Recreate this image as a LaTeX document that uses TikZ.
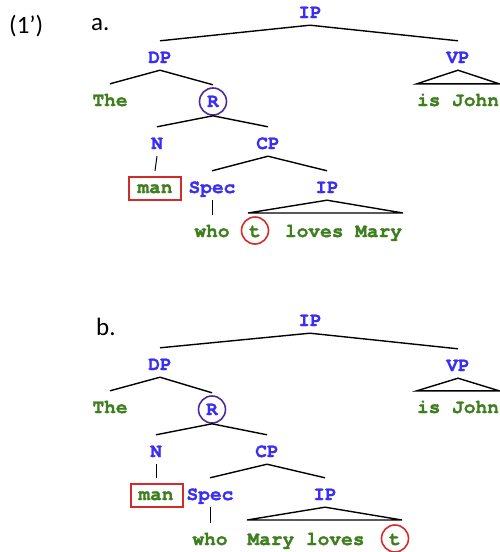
\documentclass[tikz,border=0pt]{standalone}
\usepackage{fontspec}
\setmainfont{Carlito}
\newfontfamily\treefont{TeX Gyre Cursor}[BoldFeatures={FakeBold=1.3}]
\definecolor{catblue}{HTML}{3A2EF2}
\definecolor{wordgreen}{HTML}{3E7E1E}
\definecolor{ringpurple}{HTML}{4A2A9C}
\definecolor{markred}{HTML}{D42A2A}
\begin{document}
\begin{tikzpicture}[x=1pt,y=-1pt,
  cat/.style={font=\treefont\bfseries\fontsize{19.5}{20}\selectfont,
    text=catblue, anchor=base, inner xsep=0pt, inner ysep=3pt,
    text height=19pt, text depth=4pt},
  word/.style={cat, text=wordgreen},
  branch/.style={draw=black, line width=1.4pt},
  ring/.style={circle, draw=#1, line width=1.6pt, minimum size=27pt, inner sep=0pt},
  redbox/.style={rectangle, draw=markred, line width=1.6pt, anchor=base,
    inner xsep=0pt, inner ysep=4pt, text height=12pt, text depth=3pt,
    minimum width=52pt},
  exlabel/.style={font=\fontsize{25}{28}\selectfont, anchor=base west, inner sep=0pt}]
\useasboundingbox (0,0) rectangle (500,552);

\node[exlabel] (num) at (9,33) {(1’)};
\node[exlabel] (la) at (91,30) {a.};
\node[exlabel] (lb) at (96,335) {b.};

% ---------- (a) ----------
\node[cat] (aIP) at (310,18) {IP};
\node[cat] (aDP) at (160,63) {DP};
\node[cat] (aVP) at (458,63) {VP};
\node[word] (aThe) at (110,106) {The};
\node[word] (aJohn) at (458,106) {is John};
\node[cat] (aR) at (213,107) {R};
\node[ring=ringpurple] (aRring) at ([yshift=5.5pt]aR.base) {};
\node[cat] (aN) at (157,149) {N};
\node[cat] (aCP) at (268,149) {CP};
\node[word] (aman) at (155,193) {man};
\node[redbox] (amanbox) at (aman.base) {};
\node[cat] (aSpec) at (212,193) {Spec};
\node[cat] (aIP2) at (327,193) {IP};
\node[word] (awho) at (212,237) {who};
\node[word] (at) at (255,237) {t};
\node[ring=markred] (atring) at ([yshift=6.5pt]at.base) {};
\node[word] (aloves) at (343.5,237) {loves Mary};
\coordinate (atriL) at (248,213);
\coordinate (atriR) at (403,213);

\draw[branch] (aIP.south) -- (aDP.north);
\draw[branch] (aIP.south) -- (aVP.north);
\draw[branch] (aDP.south) -- (aThe.north);
\draw[branch] (aDP.south) -- (aR.north);
\draw[branch] (aVP.south) -- (aJohn.north west) -- (aJohn.north east) -- cycle;
\draw[branch] (aRring.south) -- (aN.north);
\draw[branch] (aRring.south) -- (aCP.north);
\draw[branch, line width=1pt] (aN.south) -- (aman.north);
\draw[branch] (aCP.south) -- (aSpec.north);
\draw[branch] (aCP.south) -- (aIP2.north);
\draw[branch, line width=1pt] (aSpec.south) -- (awho.north);
\draw[branch] (aIP2.south) -- (atriL) -- (atriR) -- cycle;

% ---------- (b) ----------
\begin{scope}[shift={(0,307)}]
\node[cat] (bIP) at (310,19) {IP};
\node[cat] (bDP) at (160,63) {DP};
\node[cat] (bVP) at (458,64) {VP};
\node[word] (bThe) at (110,106) {The};
\node[word] (bJohn) at (458,106) {is John};
\node[cat] (bR) at (212,108) {R};
\node[ring=ringpurple] (bRring) at ([yshift=5.5pt]bR.base) {};
\node[cat] (bN) at (156,150) {N};
\node[cat] (bCP) at (267,150) {CP};
\node[word] (bman) at (156,193) {man};
\node[redbox] (bmanbox) at ([xshift=1pt]bman.base) {};
\node[cat] (bSpec) at (210,193) {Spec};
\node[cat] (bIP2) at (325,193) {IP};
\node[word] (bwho) at (210,238) {who};
\node[word] (bMary) at (306,238) {Mary loves};
\node[word] (bt) at (395,238) {t};
\node[ring=markred] (btring) at ([yshift=6.5pt]bt.base) {};
\coordinate (btriL) at (247,213);
\coordinate (btriR) at (402,213);

\draw[branch] (bIP.south) -- (bDP.north);
\draw[branch] (bIP.south) -- (bVP.north);
\draw[branch] (bDP.south) -- (bThe.north);
\draw[branch] (bDP.south) -- (bR.north);
\draw[branch] (bVP.south) -- (bJohn.north west) -- (bJohn.north east) -- cycle;
\draw[branch] (bRring.south) -- (bN.north);
\draw[branch] (bRring.south) -- (bCP.north);
\draw[branch, line width=1pt] (bN.south) -- (bman.north);
\draw[branch] (bCP.south) -- (bSpec.north);
\draw[branch] (bCP.south) -- (bIP2.north);
\draw[branch, line width=1pt] (bSpec.south) -- (bwho.north);
\draw[branch] (bIP2.south) -- (btriL) -- (btriR) -- cycle;
\end{scope}
\end{tikzpicture}
\end{document}
